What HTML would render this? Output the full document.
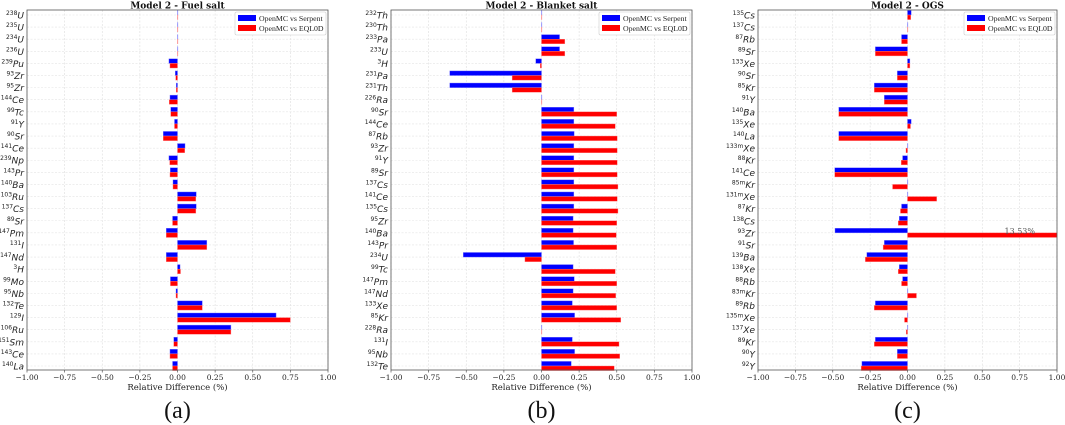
<!DOCTYPE html>
<html><head><meta charset="utf-8"><style>
html,body{margin:0;padding:0;background:#fff;}
svg{display:block;}
text{font-family:"DejaVu Serif","Liberation Serif",serif;}
.yl{font-family:"DejaVu Sans","Liberation Sans",sans-serif;font-style:italic;font-size:9px;}
.lg{font-family:"Liberation Serif",serif;font-size:7.8px;}
.pl{font-family:"Liberation Serif",serif;font-size:24px;}
</style></head><body>
<svg id="chart" width="1065" height="425" viewBox="0 0 1065 425" xmlns="http://www.w3.org/2000/svg"></svg>
<script>
const NS="http://www.w3.org/2000/svg";
// Panel (a) Fuel salt
const catsA=[["238","U"],["235","U"],["234","U"],["236","U"],["239","Pu"],["93","Zr"],["95","Zr"],["144","Ce"],["99","Tc"],["91","Y"],["90","Sr"],["141","Ce"],["239","Np"],["143","Pr"],["140","Ba"],["103","Ru"],["137","Cs"],["89","Sr"],["147","Pm"],["131","I"],["147","Nd"],["3","H"],["99","Mo"],["95","Nb"],["132","Te"],["129","I"],["106","Ru"],["151","Sm"],["143","Ce"],["140","La"]];
const serpA=[0.001,0.001,0.001,0.001,-0.057,-0.015,-0.008,-0.05,-0.045,-0.02,-0.095,0.05,-0.057,-0.048,-0.03,0.125,0.125,-0.033,-0.075,0.195,-0.075,0.017,-0.047,-0.01,0.165,0.655,0.355,-0.025,-0.05,-0.033];
const eqlA=[0.001,0.001,0.001,0.001,-0.05,-0.012,-0.008,-0.055,-0.045,-0.02,-0.095,0.048,-0.052,-0.05,-0.03,0.122,0.122,-0.033,-0.075,0.195,-0.075,0.02,-0.047,-0.01,0.165,0.75,0.355,-0.025,-0.05,-0.033];
// Panel (b) Blanket salt
const catsB=[["232","Th"],["230","Th"],["233","Pa"],["233","U"],["3","H"],["231","Pa"],["231","Th"],["226","Ra"],["90","Sr"],["144","Ce"],["87","Rb"],["93","Zr"],["91","Y"],["89","Sr"],["137","Cs"],["141","Ce"],["135","Cs"],["95","Zr"],["140","Ba"],["143","Pr"],["234","U"],["99","Tc"],["147","Pm"],["147","Nd"],["133","Xe"],["85","Kr"],["228","Ra"],["131","I"],["95","Nb"],["132","Te"]];
const serpB=[0.001,0.001,0.12,0.12,-0.038,-0.61,-0.61,0,0.215,0.215,0.217,0.215,0.215,0.215,0.215,0.215,0.215,0.21,0.21,0.213,-0.52,0.21,0.218,0.21,0.205,0.22,0,0.205,0.22,0.198];
const eqlB=[0,0,0.155,0.155,-0.008,-0.195,-0.195,0.002,0.5,0.49,0.503,0.503,0.503,0.503,0.508,0.503,0.508,0.5,0.497,0.5,-0.11,0.49,0.5,0.493,0.5,0.527,0.002,0.515,0.52,0.483];
// Panel (c) OGS
const catsC=[["135","Cs"],["137","Cs"],["87","Rb"],["89","Sr"],["133","Xe"],["90","Sr"],["85","Kr"],["91","Y"],["140","Ba"],["135","Xe"],["140","La"],["133m","Xe"],["88","Kr"],["141","Ce"],["85m","Kr"],["131m","Xe"],["87","Kr"],["138","Cs"],["93","Zr"],["91","Sr"],["139","Ba"],["138","Xe"],["88","Rb"],["83m","Kr"],["89","Rb"],["135m","Xe"],["137","Xe"],["89","Kr"],["90","Y"],["92","Y"]];
const serpC=[0.025,0.002,-0.04,-0.215,0.016,-0.068,-0.222,-0.155,-0.46,0.025,-0.46,0,-0.033,-0.487,0,0,-0.04,-0.055,-0.485,-0.155,-0.272,-0.055,-0.033,0,-0.215,0,0.002,-0.215,-0.068,-0.305];
const eqlC=[0.022,0.001,-0.04,-0.215,0.016,-0.068,-0.222,-0.155,-0.46,0.02,-0.46,-0.01,-0.042,-0.487,-0.1,0.195,-0.047,-0.062,13.53,-0.163,-0.282,-0.062,-0.04,0.06,-0.222,-0.02,-0.008,-0.222,-0.068,-0.31];
const xTicks=[-1,-0.75,-0.5,-0.25,0,0.25,0.5,0.75,1];

const svg=document.getElementById('chart');
function mk(tag,attrs,parent){const e=document.createElementNS(NS,tag);for(const k in attrs)e.setAttribute(k,attrs[k]);(parent||svg).appendChild(e);return e;}

function panel(key,title,label,left,right,cats,s1,s2){
  const top=10,bottom=370;
  const g=mk('g',{});
  
  
  const xs=v=>left+(Math.max(-1,Math.min(1,v))+1)/2*(right-left);
  const n=cats.length, y0=15, y1=366, step=(y1-y0)/(n-1);
  const ys=i=>y0+i*step;
  xTicks.forEach(t=>{const l=mk('line',{x1:xs(t),x2:xs(t),y1:top,y2:bottom,stroke:'#ddd','stroke-width':0.6,'stroke-dasharray':'2,1.5'},g);
    });
  cats.forEach((c,i)=>{const l=mk('line',{x1:left,x2:right,y1:ys(i),y2:ys(i),stroke:'#e4e4e4','stroke-width':0.6,'stroke-dasharray':'2,1.5'},g);
    });
  const bh=4.6;
  cats.forEach((c,i)=>{
    const y=ys(i);
    const a=xs(0),b=xs(s1[i]);
    const r1=mk('rect',{x:Math.min(a,b),y:y-bh,width:Math.max(0.4,Math.abs(b-a)),height:bh,fill:'#0000ff',stroke:'#8080ff','stroke-width':0.4},g);
    
    const b2=xs(s2[i]);
    const r2=mk('rect',{x:Math.min(a,b2),y:y,width:Math.max(0.4,Math.abs(b2-a)),height:bh,fill:'#ff0000',stroke:'#ff8080','stroke-width':0.4},g);
    
    if(Math.abs(s2[i])>1){const t=mk('text',{x:right-22,y:y+1,'font-size':8,fill:'#555','text-anchor':'end'},g);t.textContent=s2[i].toFixed(2)+'%';
      }
    const t=mk('text',{x:left-3,y:y+3.5,'text-anchor':'end',class:'yl',fill:'#222'},g);
    const sp=document.createElementNS(NS,'tspan');sp.setAttribute('dy','-3.5');sp.setAttribute('style','font-style:normal;font-size:6px');sp.textContent=c[0];t.appendChild(sp);
    const sp2=document.createElementNS(NS,'tspan');sp2.setAttribute('dy','3.5');sp2.textContent=c[1];t.appendChild(sp2);
    
  });
  const fr=mk('rect',{x:left,y:top,width:right-left,height:bottom-top,fill:'none',stroke:'#555','stroke-width':0.8},g);
  
  xTicks.forEach(t=>{mk('line',{x1:xs(t),x2:xs(t),y1:bottom,y2:bottom+2.5,stroke:'#555','stroke-width':0.7},g);
    const tx=mk('text',{x:xs(t),y:380,'font-size':7.5,'text-anchor':'middle',fill:'#222'},g);
    tx.textContent=(t<0?'\u2212':'')+Math.abs(t).toFixed(2);
    });
  const at=mk('text',{x:(left+right)/2,y:390,'font-size':8.5,'text-anchor':'middle',fill:'#222'},g);at.textContent='Relative Difference (%)';
  
  const tt=mk('text',{x:(left+right)/2,y:8.5,'font-size':9,'font-weight':'bold','text-anchor':'middle',fill:'#111'},g);tt.textContent=title;
  
  const pl=mk('text',{x:(left+right)/2,y:418,'text-anchor':'middle',fill:'#111',class:'pl'},g);pl.textContent=label;
  
  const lg=mk('g',{},g);
  const lx=right-93;
  mk('rect',{x:lx,y:12,width:91,height:23,fill:'#fff',stroke:'#ccc','stroke-width':0.6,rx:1.5},lg);
  mk('rect',{x:lx+3,y:15,width:18,height:6,fill:'#0000ff'},lg);
  mk('rect',{x:lx+3,y:25,width:18,height:6,fill:'#ff0000'},lg);
  const e1=mk('text',{x:lx+24,y:21,class:'lg',fill:'#222'},lg);e1.textContent='OpenMC vs Serpent';
  
  const e2=mk('text',{x:lx+24,y:31,class:'lg',fill:'#222'},lg);e2.textContent='OpenMC vs EQL0D';
  
}
panel('a','Model 2 - Fuel salt','(a)',27,328,catsA,serpA,eqlA);
panel('b','Model 2 - Blanket salt','(b)',391,692,catsB,serpB,eqlB);
panel('c','Model 2 - OGS','(c)',758,1057,catsC,serpC,eqlC);
</script>
</body></html>
